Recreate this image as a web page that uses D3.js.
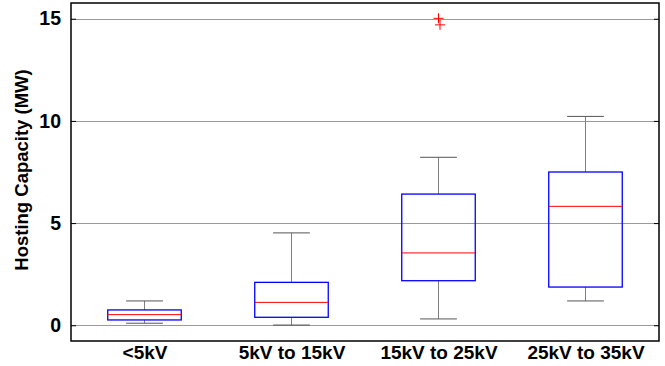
<!DOCTYPE html>
<html>
<head>
<meta charset="utf-8">
<script src="https://cdn.jsdelivr.net/npm/d3@7"></script>
<style>
  body { margin: 0; background: #fff; }
  text { font-family: "Liberation Sans", Arial, sans-serif; font-weight: bold; }
</style>
</head>
<body>
<div id="chart-container"></div>
<script>
// box plot stats (MW)
const categories = ["<5kV", "5kV to 15kV", "15kV to 25kV", "25kV to 35kV"];
const lowerWhisker = [0.10, 0.01, 0.31, 1.19];
const q1 = [0.26, 0.39, 2.18, 1.87];
const medians = [0.52, 1.12, 3.54, 5.82];
const q3 = [0.75, 2.10, 6.42, 7.50];
const upperWhisker = [1.19, 4.52, 8.22, 10.22];
const outlierGroup = [2, 2];
const outlierValues = [15.02, 14.70];
const yTicks = [0, 5, 10, 15];

function drawChart() {
    const margin = { top: 3, right: 6, bottom: 25, left: 71 };
    const width = 665 - margin.left - margin.right;
    const height = 366 - margin.top - margin.bottom;

    const svg = d3.select("#chart-container")
        .append("svg")
        .attr("width", width + margin.left + margin.right)
        .attr("height", height + margin.top + margin.bottom)
        .append("g")
        .attr("transform", `translate(${margin.left},${margin.top})`);

    const x = d3.scaleLinear().domain([0.5, 4.5]).range([0, width]);
    const y = d3.scaleLinear().domain([-0.77, 15.77]).range([height, 0]);

    // grid
    svg.append("g")
        .selectAll("line")
        .data(yTicks)
        .join("line")
        .attr("x1", 0)
        .attr("x2", width)
        .attr("y1", d => Math.round(y(d)) + 0.5)
        .attr("y2", d => Math.round(y(d)) + 0.5)
        .attr("stroke", "#9a9a9a")
        .attr("stroke-width", 1);

    const boxW = x(1.25) - x(1);
    const capW = x(1.125) - x(1);
    const data = categories.map((c, i) => ({
        i: i + 1, lo: lowerWhisker[i], q1: q1[i], med: medians[i], q3: q3[i], hi: upperWhisker[i]
    }));

    const g = svg.append("g").selectAll("g").data(data).join("g");

    // whiskers
    g.append("line")
        .attr("x1", d => x(d.i)).attr("x2", d => x(d.i))
        .attr("y1", d => y(d.q3)).attr("y2", d => y(d.hi))
        .attr("stroke", "#808080");
    g.append("line")
        .attr("x1", d => x(d.i)).attr("x2", d => x(d.i))
        .attr("y1", d => y(d.q1)).attr("y2", d => y(d.lo))
        .attr("stroke", "#808080");
    g.append("line")
        .attr("x1", d => x(d.i) - capW).attr("x2", d => x(d.i) + capW)
        .attr("y1", d => y(d.hi)).attr("y2", d => y(d.hi))
        .attr("stroke", "#555");
    g.append("line")
        .attr("x1", d => x(d.i) - capW).attr("x2", d => x(d.i) + capW)
        .attr("y1", d => y(d.lo)).attr("y2", d => y(d.lo))
        .attr("stroke", "#555");

    // boxes
    g.append("rect")
        .attr("x", d => x(d.i) - boxW)
        .attr("width", 2 * boxW)
        .attr("y", d => y(d.q3))
        .attr("height", d => y(d.q1) - y(d.q3))
        .attr("fill", "none")
        .attr("stroke", "#0000ff")
        .attr("stroke-width", 1.3);

    g.append("line")
        .attr("x1", d => x(d.i) - boxW).attr("x2", d => x(d.i) + boxW)
        .attr("y1", d => y(d.med)).attr("y2", d => y(d.med))
        .attr("stroke", "#ff0000");

    // outliers
    svg.append("g")
        .selectAll("path")
        .data(outlierValues)
        .join("path")
        .attr("transform", (d, k) => `translate(${x(outlierGroup[k] + 1) + k * 1.5},${y(d)})`)
        .attr("d", "M-5,0H5M0,-5V5")
        .attr("stroke", "#ff0000")
        .attr("fill", "none");

    // frame
    svg.append("rect")
        .attr("x", 0).attr("y", 0)
        .attr("width", width).attr("height", height)
        .attr("fill", "none")
        .attr("stroke", "#000")
        .attr("stroke-width", 1.5);

    // y axis (ticks inside) + mirrored ticks on the right
    svg.append("g")
        .call(d3.axisLeft(y).tickValues(yTicks).tickSize(-5).tickPadding(10))
        .call(a => a.select(".domain").remove())
        .call(a => a.selectAll("text").attr("font-size", 19.5).attr("fill", "#000"));
    svg.append("g")
        .attr("transform", `translate(${width},0)`)
        .call(d3.axisRight(y).tickValues(yTicks).tickSize(-5).tickFormat(""))
        .call(a => a.select(".domain").remove());

    // x axis labels
    svg.append("g")
        .attr("transform", `translate(0,${height})`)
        .call(d3.axisBottom(x).tickValues([1, 2, 3, 4]).tickSize(0).tickPadding(5)
            .tickFormat(d => categories[d - 1]))
        .call(a => a.select(".domain").remove())
        .call(a => a.selectAll("text").attr("font-size", 19).attr("fill", "#000"));

    svg.append("text")
        .attr("transform", `translate(${22 - margin.left},${170 - margin.top}) rotate(-90)`)
        .attr("text-anchor", "middle")
        .attr("dy", "0.35em")
        .attr("font-size", 18.5)
        .text("Hosting Capacity (MW)");
}

document.addEventListener('DOMContentLoaded', drawChart);
</script>
</body>
</html>
